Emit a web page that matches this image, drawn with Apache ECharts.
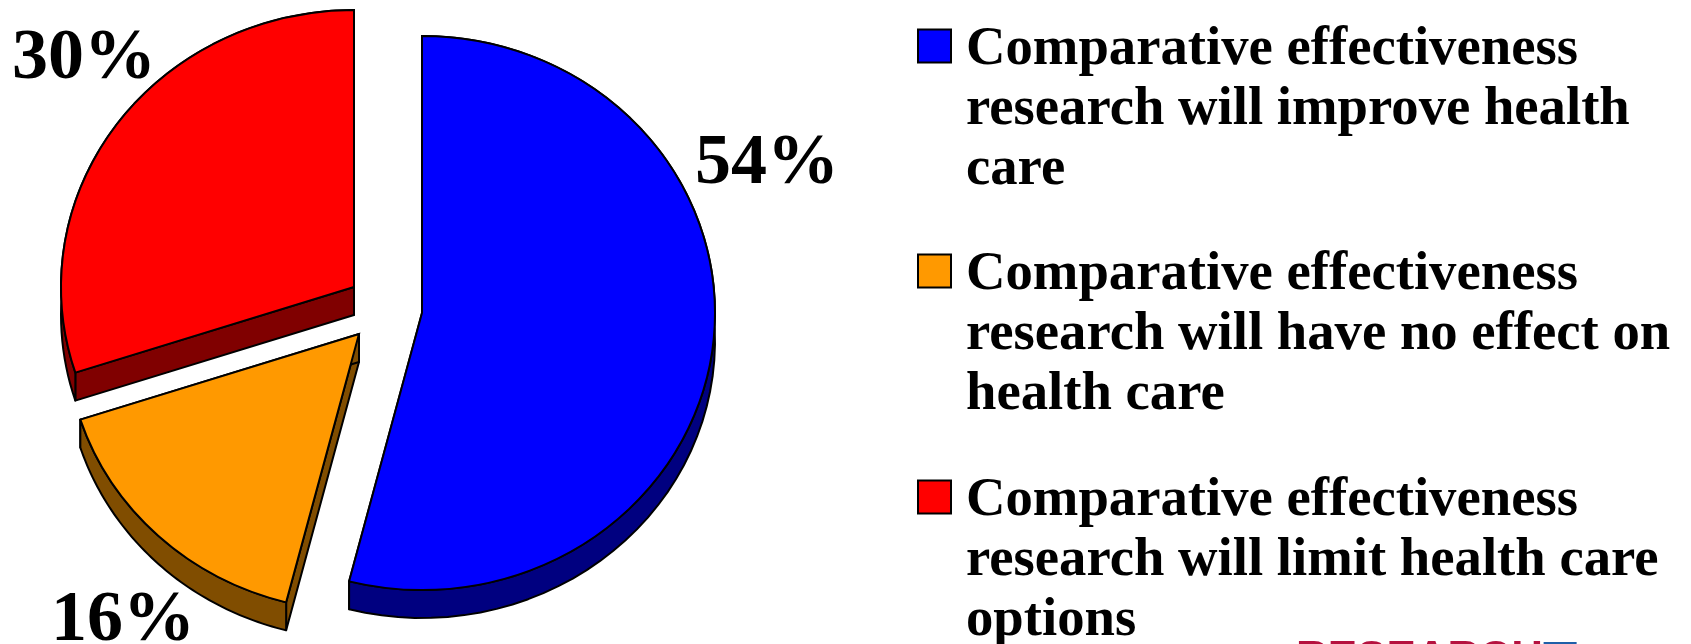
<!DOCTYPE html>
<html>
<head>
<meta charset="utf-8">
<title>Comparative effectiveness research</title>
<script src="https://cdn.jsdelivr.net/npm/echarts@6/dist/echarts.min.js"></script>
<style>
html, body { margin: 0; padding: 0; background: #fff; }
#chart { width: 1691px; height: 644px; }
</style>
</head>
<body>
<div id="chart"></div>
<script>
const categories = [
    'Comparative effectiveness\nresearch will improve health\ncare',
    'Comparative effectiveness\nresearch will have no effect on\nhealth care',
    'Comparative effectiveness\nresearch will limit health care\noptions'
];
const shares = [54, 16, 30];

const topColors = ['#0000ff', '#ff9900', '#ff0000'];
const wallColors = ['#000080', '#804d00', '#800000'];
// each slice is pulled out of the pie on its own, so each has its own apex
const apexes = [[422, 313], [359, 334], [354, 287]];
const labelSpots = [[695, 200], [51, 657], [12, 95]];
const legendTops = [-107.5, 117.5, 343.5];

const RX = 293, RY = 277, DEPTH = 28;
const FONT = '"Liberation Serif", "Times New Roman", serif';
const total = shares.reduce(function (a, b) { return a + b; }, 0);

function rimPoint(apex, angle, drop) {
    return [apex[0] + Math.sin(angle) * RX, apex[1] - Math.cos(angle) * RY + drop];
}

function wallShape(points, fill) {
    return {
        type: 'polygon',
        shape: { points: points },
        style: { fill: fill, stroke: '#000', lineWidth: 2, lineJoin: 'round' }
    };
}

function renderSlice(index) {
    return function (params, api) {
        const value = api.value(0);
        let before = 0;
        for (let i = 0; i < index; i++) before += shares[i];
        const a0 = before / total * Math.PI * 2;
        const a1 = (before + value) / total * Math.PI * 2;
        const apex = apexes[index];
        const low = [apex[0], apex[1] + DEPTH];

        // rim wall, walked along the ellipse
        const rim = [];
        const steps = 60;
        for (let s = 0; s <= steps; s++) rim.push(rimPoint(apex, a0 + (a1 - a0) * s / steps, 0));
        for (let s = steps; s >= 0; s--) rim.push(rimPoint(apex, a0 + (a1 - a0) * s / steps, DEPTH));

        const fill = wallColors[index];
        return {
            type: 'group',
            children: [
                wallShape([apex, rimPoint(apex, a0, 0), rimPoint(apex, a0, DEPTH), low], fill),
                wallShape([apex, rimPoint(apex, a1, 0), rimPoint(apex, a1, DEPTH), low], fill),
                wallShape(rim, fill),
                {
                    type: 'sector',
                    x: apex[0],
                    y: apex[1],
                    scaleY: RY / RX,
                    shape: {
                        cx: 0, cy: 0, r0: 0, r: RX,
                        startAngle: a0 - Math.PI / 2,
                        endAngle: a1 - Math.PI / 2,
                        clockwise: true
                    },
                    style: { fill: topColors[index], stroke: '#000', lineWidth: 2 }
                },
                {
                    type: 'text',
                    x: labelSpots[index][0],
                    y: labelSpots[index][1],
                    style: {
                        text: value + '%',
                        fill: '#000',
                        font: 'bold 72px ' + FONT,
                        textAlign: 'left',
                        textVerticalAlign: 'bottom'
                    }
                }
            ]
        };
    };
}

const chart = echarts.init(document.getElementById('chart'));
chart.setOption({
    backgroundColor: '#fff',
    animation: false,
    // one legend per entry; the blank lines keep the swatch level with the first text line
    legend: categories.map(function (name, i) {
        return {
            left: 917,
            top: legendTops[i],
            icon: 'rect',
            itemWidth: 33,
            itemHeight: 33,
            padding: 0,
            selectedMode: false,
            data: [name],
            formatter: function (n) { return '{gap| }\n{blank| }\n' + n; },
            itemStyle: { borderColor: '#000', borderWidth: 2 },
            textStyle: {
                fontFamily: FONT,
                fontWeight: 'bold',
                fontSize: 54.7,
                lineHeight: 60,
                color: '#000',
                padding: [0, 0, 0, 10],
                rich: {
                    gap: { lineHeight: 67, fontSize: 10 },
                    blank: { lineHeight: 60, fontSize: 10 }
                }
            }
        };
    }),
    graphic: [
        {
            type: 'text',
            left: 1296,
            top: 638,
            style: { text: 'RESEARCH', fill: '#b5123f', font: 'bold 44px "Liberation Sans", Arial, sans-serif' }
        },
        {
            type: 'text',
            left: 1543,
            top: 637,
            style: { text: 'T', fill: '#1f5fa8', font: 'bold 56px "Liberation Sans", Arial, sans-serif' }
        }
    ],
    series: shares.map(function (v, i) {
        return {
            type: 'custom',
            name: categories[i],
            coordinateSystem: 'none',
            itemStyle: { color: topColors[i] },
            renderItem: renderSlice(i),
            silent: true,
            data: [[v]]
        };
    })
});
</script>
</body>
</html>
